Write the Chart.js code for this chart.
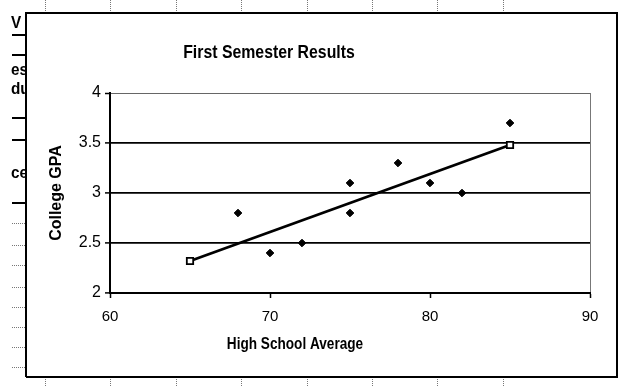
<!DOCTYPE html>
<html>
<head>
<meta charset="utf-8">
<title>First Semester Results</title>
<script src="https://cdn.jsdelivr.net/npm/chart.js@4.4.0/dist/chart.umd.min.js"></script>
<style>
    html, body { margin: 0; padding: 0; background: #fff; }
    #wrap { width: 618px; height: 387px; }
</style>
</head>
<body>
<div id="wrap"><canvas id="gpaChart" width="618" height="387"></canvas></div>
<script>
// data
const hsAverage = [68, 70, 72, 75, 75, 78, 80, 82, 85];
const collegeGpa = [2.8, 2.4, 2.5, 3.1, 2.8, 3.3, 3.1, 3.0, 3.7];

// fitted line end points (square markers)
const trendX = [65, 85];
const trendY = [2.32, 3.48];

const xTicks = [60, 70, 80, 90];
const yTicks = [2, 2.5, 3, 3.5, 4];

const chartTitle = 'First Semester Results';
const xTitle = 'High School Average';
const yTitle = 'College GPA';

// scraps of the spreadsheet around the chart object
const sideMarksY = [35, 55, 118, 140, 203];
const sideDotsY = [223, 245, 265, 287, 307, 327, 347, 367];
const colMarksX = [45, 110, 176, 241, 307, 372, 437, 503];
const sideTexts = [['V', 23], ['es', 70], ['du', 89], ['ce', 173]];

const font = '"Liberation Sans", Arial, sans-serif';

// narrow bold text like the scan (no Arial Narrow here, so squeeze it)
function narrowText(c, text, x, y, size, squeeze) {
    c.save();
    c.translate(x, y);
    c.scale(squeeze, 1);
    c.font = 'bold ' + size + 'px ' + font;
    c.fillText(text, 0, 0);
    c.restore();
}

const sheetBits = {
    id: 'sheetBits',
    beforeDraw(chart) {
        const c = chart.ctx;
        c.save();
        c.fillStyle = '#fff';
        c.fillRect(0, 0, chart.width, chart.height);

        // dotted column marks above and below
        c.strokeStyle = '#777';
        c.lineWidth = 1;
        c.setLineDash([1, 1]);
        colMarksX.forEach(x => {
            c.beginPath();
            c.moveTo(x + 0.5, 0);
            c.lineTo(x + 0.5, 11);
            c.moveTo(x + 0.5, 379);
            c.lineTo(x + 0.5, 387);
            c.stroke();
        });
        sideDotsY.forEach(y => {
            c.beginPath();
            c.moveTo(12, y + 0.5);
            c.lineTo(25, y + 0.5);
            c.stroke();
        });
        c.setLineDash([]);

        // heavier row marks on the left
        c.strokeStyle = '#000';
        c.lineWidth = 2;
        sideMarksY.forEach(y => {
            c.beginPath();
            c.moveTo(12, y);
            c.lineTo(26, y);
            c.stroke();
        });

        c.fillStyle = '#000';
        c.textBaseline = 'middle';
        sideTexts.forEach(t => narrowText(c, t[0], 11, t[1], 17, 0.9));

        // chart object frame
        c.fillStyle = '#fff';
        c.fillRect(27, 14, 591, 362);
        c.strokeStyle = '#000';
        c.lineWidth = 2;
        c.beginPath();
        c.moveTo(26, 377);
        c.lineTo(26, 13);
        c.lineTo(618, 13);
        c.moveTo(26, 377);
        c.lineTo(618, 377);
        c.moveTo(617, 13);
        c.lineTo(617, 377);
        c.stroke();
        c.restore();
    },
    afterDraw(chart) {
        // titles sit off-centre in the original, so place them here
        const c = chart.ctx;
        c.save();
        c.fillStyle = '#000';
        c.textAlign = 'center';
        c.textBaseline = 'middle';
        narrowText(c, chartTitle, 269, 53, 18, 0.88);
        narrowText(c, xTitle, 295, 345, 16, 0.85);
        c.restore();
    }
};

function drawChart() {
    const ctx = document.getElementById('gpaChart').getContext('2d');

    new Chart(ctx, {
        type: 'scatter',
        data: {
            datasets: [
                {
                    label: 'College GPA',
                    data: hsAverage.map((x, i) => ({ x: x, y: collegeGpa[i] })),
                    pointStyle: 'rectRot',
                    pointRadius: 3.8,
                    backgroundColor: '#000',
                    borderColor: '#000',
                    borderWidth: 1
                },
                {
                    label: 'Predicted',
                    type: 'line',
                    data: trendX.map((x, i) => ({ x: x, y: trendY[i] })),
                    showLine: true,
                    borderColor: '#000',
                    borderWidth: 2.8,
                    pointStyle: 'rect',
                    pointRadius: 4.5,
                    pointBackgroundColor: '#fff',
                    pointBorderColor: '#000',
                    pointBorderWidth: 1.8
                }
            ]
        },
        options: {
            responsive: false,
            animation: false,
            layout: {
                padding: { left: 43, right: 28, top: 93, bottom: 28 }
            },
            plugins: {
                legend: { display: false },
                tooltip: { enabled: false },
                title: { display: false }
            },
            scales: {
                x: {
                    type: 'linear',
                    min: 60,
                    max: 90,
                    afterBuildTicks: scale => { scale.ticks = xTicks.map(v => ({ value: v })); },
                    afterFit: scale => { scale.height = 66; },
                    ticks: {
                        color: '#000',
                        padding: 10,
                        font: { family: font, size: 15 }
                    },
                    grid: {
                        drawOnChartArea: true,
                        tickLength: 5,
                        tickColor: '#000',
                        tickWidth: 1.5,
                        color: c => c.tick && c.tick.value === 90 ? '#777' : 'rgba(0,0,0,0)',
                        lineWidth: 1
                    },
                    border: { color: '#000', width: 2 },
                    title: { display: false }
                },
                y: {
                    min: 2,
                    max: 4,
                    afterBuildTicks: scale => { scale.ticks = yTicks.map(v => ({ value: v })); },
                    afterFit: scale => { scale.width = 67; },
                    ticks: {
                        color: '#000',
                        padding: 4,
                        font: { family: font, size: 16 },
                        callback: v => String(v)
                    },
                    grid: {
                        tickLength: 5,
                        tickColor: '#000',
                        tickWidth: 1.5,
                        color: c => c.tick && c.tick.value === 4 ? '#666' : '#000',
                        lineWidth: c => c.tick && c.tick.value === 4 ? 1 : 1.8
                    },
                    border: { color: '#000', width: 2 },
                    title: {
                        display: true,
                        text: yTitle,
                        color: '#000',
                        font: { family: font, size: 16, weight: 'bold' },
                        padding: { top: 4, bottom: 0 }
                    }
                }
            }
        },
        plugins: [sheetBits]
    });
}

drawChart();
</script>
</body>
</html>
